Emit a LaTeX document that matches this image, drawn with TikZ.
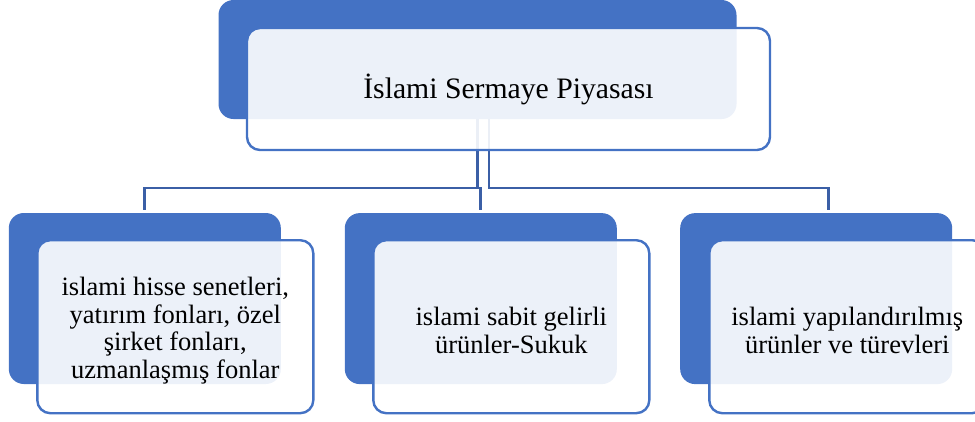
\documentclass[tikz,border=0pt]{standalone}
\usepackage{fontspec}
\setmainfont{Liberation Serif}
\usepackage{xcolor}
\usetikzlibrary{positioning}
\definecolor{accent}{HTML}{4472C4}
\definecolor{linkblue}{RGB}{59,95,166}
\newcommand{\firstline}{\rule{0pt}{26pt}}

\begin{document}
\begin{tikzpicture}[x=1pt, y=-1pt,
    back/.style={rectangle, rounded corners=15pt, fill=accent, inner sep=0pt, outer sep=0pt,
        minimum width=272pt, minimum height=171pt},
    front/.style={rectangle, rounded corners=13pt, draw=accent, line width=2.4pt, fill=white,
        fill opacity=0.9, text opacity=1, inner sep=0pt, outer sep=0pt, align=center,
        minimum width=276pt, minimum height=173pt, font=\fontsize{26.5}{27.5}\selectfont},
    link/.style={draw=linkblue, line width=2.6pt}]

    \useasboundingbox (0,0) rectangle (975,421);

    % back panels
    \node[back, minimum width=518pt, minimum height=119pt] (root) at (477.5,59.5) {};
    \node[back] (hisse) at (144.8,298.5) {};
    \node[back] (sukuk) at (480.8,298.6) {};
    \node[back] (turev) at (816.2,298.6) {};

    % connectors
    \coordinate (bar) at (0,188);
    \coordinate (rootR) at (489,119);
    \coordinate (jL) at (144.5,210);
    \coordinate (jM) at (480.3,210);
    \coordinate (jR) at (828.7,210);

    \path[link]
    (root.south) -- (root.south |- bar) -| (jL)
    (root.south |- bar) -| (jM)
    (rootR) -- (rootR |- bar) -| (jR);

    % text panels
    \node[front, minimum width=523pt, minimum height=122pt, font=\fontsize{29.7}{34}\selectfont]
        (rootT) at (508.5,89) {İslami Sermaye Piyasası};
    \node[front] (hisseT) at (175.3,326.7)
        {\firstline islami hisse senetleri,\\ yatırım fonları, özel\\ şirket fonları,\\ uzmanlaşmış fonlar};
    \node[front] (sukukT) at (511.3,326.7) {\firstline islami sabit gelirli\\ ürünler-Sukuk};
    \node[front] (turevT) at (847.3,326.7) {\firstline islami yapılandırılmış\\ ürünler ve türevleri};
\end{tikzpicture}
\end{document}
